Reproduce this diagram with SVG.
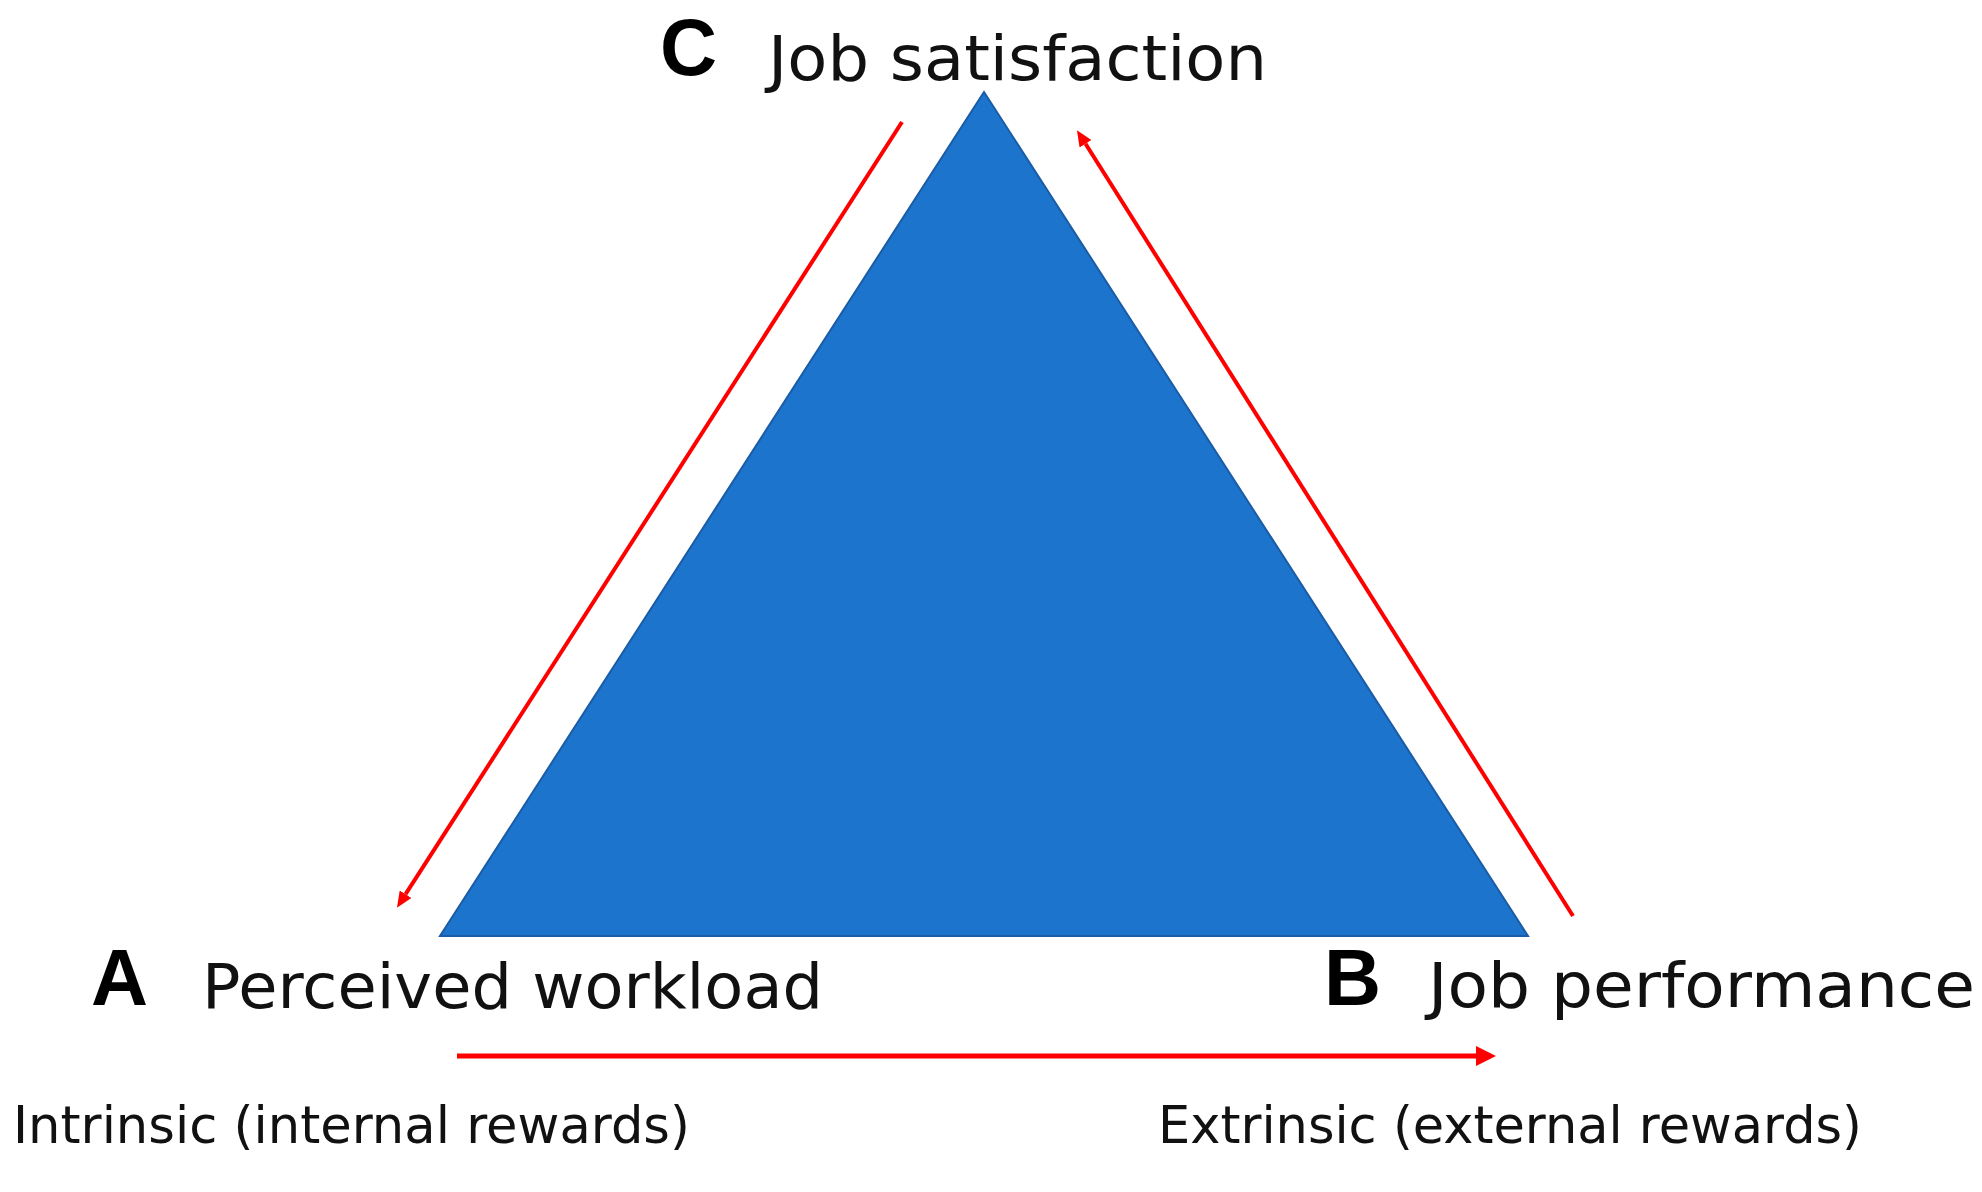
<svg xmlns="http://www.w3.org/2000/svg" width="1982" height="1192" viewBox="0 0 1982 1192">
<style>
.lbl{font-family:"DejaVu Sans","Liberation Sans",sans-serif;font-size:63px;fill:#111}
.sub{font-family:"DejaVu Sans","Liberation Sans",sans-serif;font-size:51px;fill:#111}
.key{font-family:"Liberation Sans",Arial,sans-serif;font-size:79px;font-weight:bold;fill:#000}
.arr{stroke:#FF0000;fill:none}
</style>
<defs>
<marker id="ah" markerUnits="userSpaceOnUse" markerWidth="16" markerHeight="14" viewBox="0 -7 16 14" refX="0" refY="0" orient="auto">
<path d="M0,-7 L16,0 L0,7 z" fill="#FF0000"/>
</marker>
<marker id="ahb" markerUnits="userSpaceOnUse" markerWidth="20" markerHeight="20" viewBox="0 -10 20 20" refX="0" refY="0" orient="auto">
<path d="M0,-10 L20,0 L0,10 z" fill="#FF0000"/>
</marker>
</defs>
<rect width="1982" height="1192" fill="#FFFFFF"/>
<g id="triangle">
<polygon points="984,92 440,936 1528,936" fill="#1C74CC" stroke="#1A5CA6" stroke-width="2"/>
</g>
<g id="nodeC">
<text class="key" x="660" y="75">C</text>
<text class="lbl" x="768" y="80" textLength="499" lengthAdjust="spacingAndGlyphs">Job satisfaction</text>
</g>
<g id="nodeA">
<text class="key" x="91" y="1005">A</text>
<text class="lbl" x="202" y="1008" textLength="621" lengthAdjust="spacingAndGlyphs">Perceived workload</text>
</g>
<g id="nodeB">
<text class="key" x="1324" y="1005">B</text>
<text class="lbl" x="1428" y="1007" textLength="547" lengthAdjust="spacingAndGlyphs">Job performance</text>
</g>
<g id="labels">
<text class="sub" x="13" y="1143" textLength="677" lengthAdjust="spacingAndGlyphs">Intrinsic (internal rewards)</text>
<text class="sub" x="1158" y="1143" textLength="704" lengthAdjust="spacingAndGlyphs">Extrinsic (external rewards)</text>
</g>
<g id="connectors">
<line class="arr" x1="902" y1="122" x2="405.6" y2="894.2" stroke-width="4" marker-end="url(#ah)"/>
<line class="arr" x1="1573" y1="916" x2="1085.5" y2="143.8" stroke-width="4" marker-end="url(#ah)"/>
<line class="arr" x1="457" y1="1056" x2="1476" y2="1056" stroke-width="5" marker-end="url(#ahb)"/>
</g>
</svg>
